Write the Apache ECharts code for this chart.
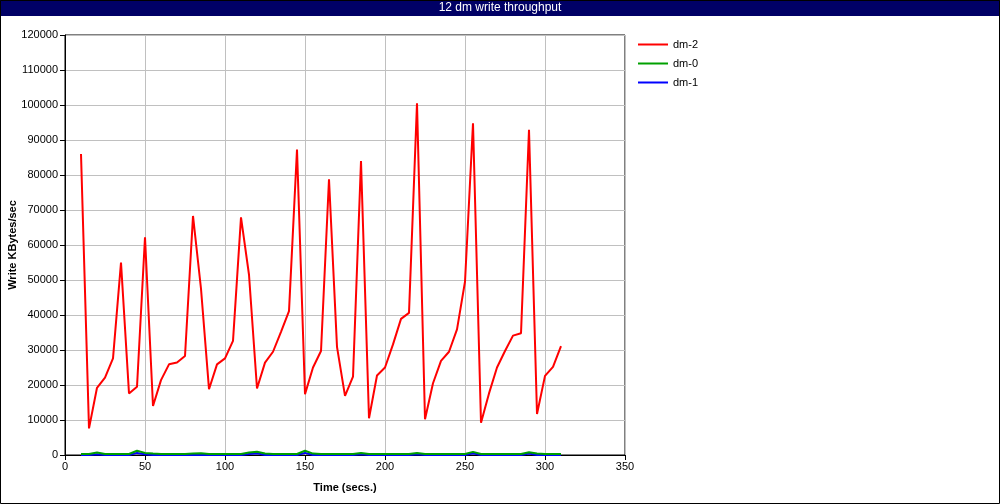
<!DOCTYPE html>
<html>
<head>
<meta charset="utf-8">
<script src="https://cdn.jsdelivr.net/npm/echarts@6/dist/echarts.min.js"></script>
<style>html,body{margin:0;padding:0;background:#fff}#c{width:1000px;height:504px}</style>
</head>
<body>
<div id="c"></div>
<script>
const titleText = "12 dm write throughput";
const times = [10,15,20,25,30,35,40,45,50,55,60,65,70,75,80,85,90,95,100,105,110,115,120,125,130,135,140,145,150,155,160,165,170,175,180,185,190,195,200,205,210,215,220,225,230,235,240,245,250,255,260,265,270,275,280,285,290,295,300,305,310];
const dm2 = [86000,7600,19200,22100,27600,55000,17600,19500,62200,14000,21400,25900,26400,28300,68300,47500,18800,25900,27600,32600,67900,51500,19000,26400,29500,35200,41100,87300,17400,25000,29700,78800,30900,16900,22400,84000,10500,22700,25000,31600,38900,40600,100500,10200,20500,26900,29500,35900,49500,94800,9200,17600,25000,29700,34100,34800,92900,11700,22600,25200,31100];
const dm0 = [300,300,700,300,300,300,300,1200,600,400,300,300,300,300,400,500,300,300,300,300,300,700,900,400,300,300,300,300,1200,400,300,300,300,300,300,600,300,300,300,300,300,300,600,300,300,300,300,300,300,900,300,300,300,300,300,300,800,400,300,300,300];
const dm1 = [0,0,200,0,0,0,0,600,200,0,0,0,0,0,0,0,0,0,0,0,0,300,500,0,0,0,0,0,600,0,0,0,0,0,0,200,0,0,0,0,0,0,200,0,0,0,0,0,0,500,0,0,0,0,0,0,400,0,0,0,0];
const seriesNames = ["dm-2","dm-0","dm-1"];
const seriesColors = ["#ff0000","#00a000","#0000ff"];
const xName = "Time (secs.)";
const yName = "Write KBytes/sec";

const pairs = arr => times.map((t,i)=>[t,arr[i]]);
const font = "'Liberation Sans', Arial, sans-serif";
const chart = echarts.init(document.getElementById('c'), null, {renderer:'canvas'});
chart.setOption({
  animation:false,
  backgroundColor:'#fff',
  textStyle:{fontFamily:font},
  graphic:[
    {type:'rect', z:100, shape:{x:0.5,y:0.5,width:999,height:503}, style:{fill:'none',stroke:'#000',lineWidth:1}},
    {type:'rect', z:90, shape:{x:0,y:0,width:1000,height:16}, style:{fill:'#000066'}},
    {type:'text', z:101, left:'center', top:2, style:{text:titleText, fill:'#fff', font:"12px "+font}}
  ],
  legend:{
    orient:'vertical', left:633, top:34, itemGap:8, itemWidth:30, itemHeight:12,
    data: seriesNames.map((n,i)=>({name:n, icon:'path://M0,5 L30,5 L30,7 L0,7 Z'})),
    textStyle:{fontFamily:font,fontSize:11,color:'#000'}
  },
  grid:{left:65,right:375,top:35,bottom:49,show:true,borderColor:'#000',borderWidth:1,containLabel:false,outerBoundsMode:'none'},
  xAxis:{
    type:'value', min:0, max:350, interval:50,
    name:xName, nameLocation:'middle', nameGap:27, nameMoveOverlap:false,
    nameTextStyle:{fontWeight:'bold',fontSize:11,color:'#000',fontFamily:font},
    axisLine:{show:true,onZero:false,lineStyle:{color:'#000',width:1}},
    axisTick:{show:true,length:5,lineStyle:{color:'#000'}},
    axisLabel:{color:'#000',fontSize:11,margin:6,fontFamily:font},
    splitLine:{show:true,lineStyle:{color:'#c0c0c0',width:1}}
  },
  yAxis:{
    type:'value', min:0, max:120000, interval:10000,
    name:yName, nameLocation:'middle', nameGap:47, nameMoveOverlap:false,
    nameTextStyle:{fontWeight:'bold',fontSize:11,color:'#000',fontFamily:font},
    axisLine:{show:true,lineStyle:{color:'#000',width:1}},
    axisTick:{show:true,length:5,lineStyle:{color:'#000'}},
    axisLabel:{color:'#000',fontSize:11,margin:7,fontFamily:font,formatter:v=>String(v)},
    splitLine:{show:true,lineStyle:{color:'#c0c0c0',width:1}}
  },
  series:[
    {name:seriesNames[0], type:'line', data:pairs(dm2), showSymbol:false, z:5, lineStyle:{color:seriesColors[0],width:2}, itemStyle:{color:seriesColors[0]}},
    {name:seriesNames[1], type:'line', data:pairs(dm0), showSymbol:false, z:4, lineStyle:{color:seriesColors[1],width:2}, itemStyle:{color:seriesColors[1]}},
    {name:seriesNames[2], type:'line', data:pairs(dm1), showSymbol:false, z:3, lineStyle:{color:seriesColors[2],width:2}, itemStyle:{color:seriesColors[2]}}
  ]
});
</script>
</body>
</html>
